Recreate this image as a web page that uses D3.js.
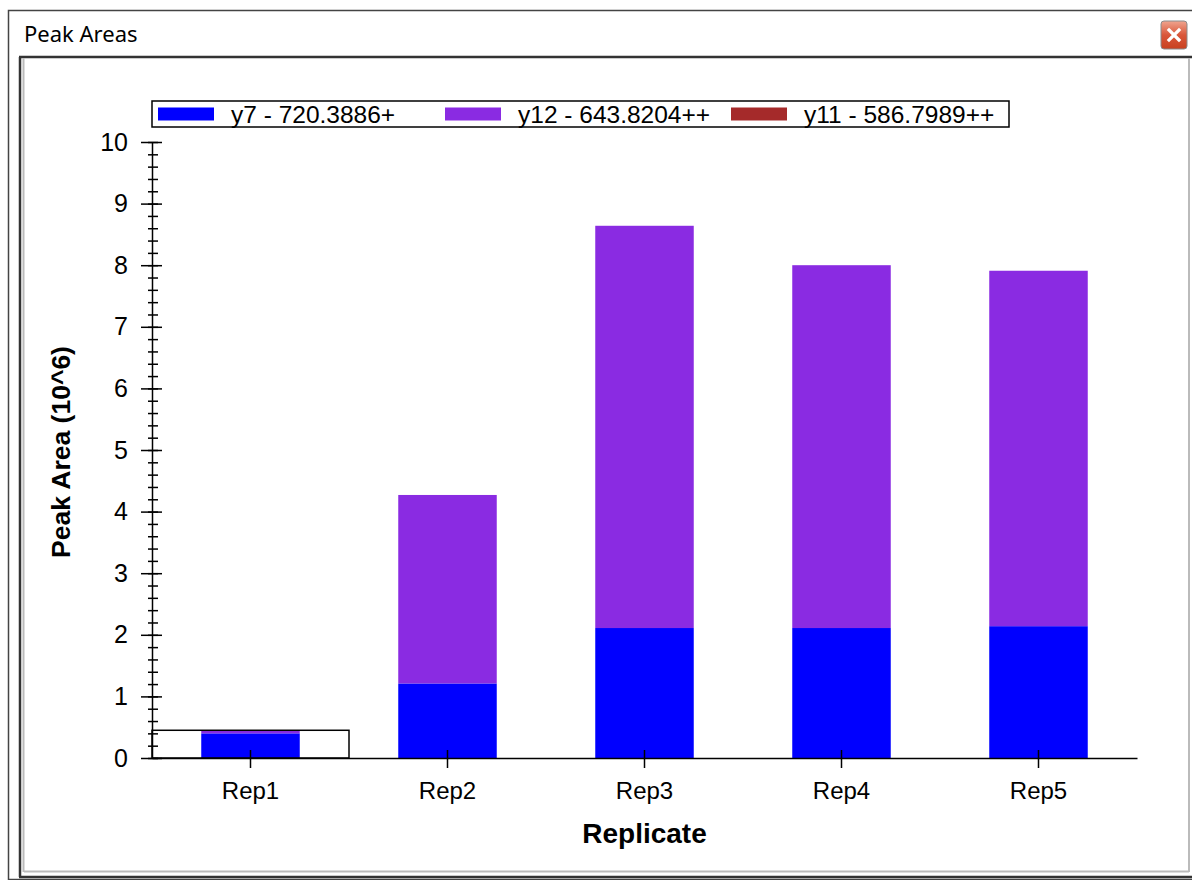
<!DOCTYPE html>
<html>
<head>
<title>Peak Areas</title>
<script src="https://d3js.org/d3.v7.min.js"></script>
<style>
  body { margin: 0; background: #fff; }
  text { font-family: "Liberation Sans", Arial, sans-serif; fill: #000; }
</style>
</head>
<body>
<script>
// data (peak area in 10^6)
const replicates = ["Rep1", "Rep2", "Rep3", "Rep4", "Rep5"];
const y7Values  = [0.40, 1.21, 2.11, 2.11, 2.14];
const y12Values = [0.05, 3.06, 6.53, 5.89, 5.77];
const y11Values = [0, 0, 0, 0, 0];
const seriesNames  = ["y7 - 720.3886+", "y12 - 643.8204++", "y11 - 586.7989++"];
const seriesColors = ["#0000ff", "#8a2be2", "#a52a2a"];
const yTicks = [0, 1, 2, 3, 4, 5, 6, 7, 8, 9, 10];
const selected = "Rep1";

const table = replicates.map((r, i) => ({rep: r, y7: y7Values[i], y12: y12Values[i], y11: y11Values[i]}));
const keys = ["y7", "y12", "y11"];

const svg = d3.select("body").append("svg")
  .attr("width", 1192)
  .attr("height", 880);

// window frame
svg.append("rect").attr("x", 8.5).attr("y", 10.5).attr("width", 1190).attr("height", 869)
  .attr("fill", "#fff").attr("stroke", "#444").attr("stroke-width", 1.5);
svg.append("text").attr("x", 24).attr("y", 42)
  .style("font-family", "'Noto Sans', 'Open Sans', sans-serif").style("font-size", "22px")
  .text("Peak Areas");

// close button
const btn = svg.append("g").attr("transform", "translate(1161,21)");
const grad = svg.append("defs").append("linearGradient").attr("id", "btnGrad")
  .attr("x1", 0).attr("y1", 0).attr("x2", 0).attr("y2", 1);
grad.append("stop").attr("offset", "0%").attr("stop-color", "#f0a58f");
grad.append("stop").attr("offset", "50%").attr("stop-color", "#d9573a");
grad.append("stop").attr("offset", "100%").attr("stop-color", "#c8401f");
btn.append("rect").attr("width", 26).attr("height", 28).attr("rx", 3)
  .attr("fill", "url(#btnGrad)").attr("stroke", "#8a8a8a");
btn.append("path").attr("d", "M8,9L18,19M18,9L8,19")
  .attr("stroke", "#fff").attr("stroke-width", 3.2).attr("stroke-linecap", "square");

// inner panel borders
svg.append("line").attr("x1", 19).attr("x2", 1192).attr("y1", 57).attr("y2", 57)
  .attr("stroke", "#333").attr("stroke-width", 2.5);
svg.append("line").attr("x1", 20).attr("x2", 20).attr("y1", 57).attr("y2", 877)
  .attr("stroke", "#333").attr("stroke-width", 2.5);
svg.append("line").attr("x1", 23.5).attr("x2", 23.5).attr("y1", 58).attr("y2", 872)
  .attr("stroke", "#bbb").attr("stroke-width", 2);
svg.append("line").attr("x1", 24).attr("x2", 1189).attr("y1", 871.5).attr("y2", 871.5)
  .attr("stroke", "#bbb").attr("stroke-width", 2);
svg.append("line").attr("x1", 19).attr("x2", 1192).attr("y1", 877).attr("y2", 877)
  .attr("stroke", "#333").attr("stroke-width", 2.5);
svg.append("line").attr("x1", 1189).attr("x2", 1189).attr("y1", 58).attr("y2", 872)
  .attr("stroke", "#bbb").attr("stroke-width", 2);

// chart
const plotLeft = 152, plotRight = 1137, plotTop = 142, plotBottom = 758;

const xScale = d3.scaleBand().domain(replicates).range([plotLeft, plotRight])
  .paddingInner(0.5).paddingOuter(0.25);
const yScale = d3.scaleLinear().domain([0, 10]).range([plotBottom, plotTop]);

const stacked = d3.stack().keys(keys)(table);

stacked.forEach((layer, li) => {
  svg.append("g").selectAll("rect")
    .data(layer)
    .join("rect")
    .attr("x", d => xScale(d.data.rep))
    .attr("width", xScale.bandwidth())
    .attr("y", d => yScale(d[1]))
    .attr("height", d => yScale(d[0]) - yScale(d[1]))
    .attr("fill", seriesColors[li]);
});

// selection box around Rep1
const selRow = table.find(d => d.rep === selected);
const selTotal = selRow.y7 + selRow.y12 + selRow.y11;
const step = xScale.step();
svg.append("rect")
  .attr("x", xScale(selected) + xScale.bandwidth() / 2 - step / 2)
  .attr("width", step)
  .attr("y", yScale(selTotal))
  .attr("height", yScale(0) - yScale(selTotal))
  .attr("fill", "none").attr("stroke", "#000").attr("stroke-width", 1.5);

// y axis minor ticks
const yMinor = d3.axisLeft(yScale).tickValues(d3.range(0, 10.01, 0.2)).tickFormat("").tickSize(4).tickSizeOuter(0);
const gMinor = svg.append("g").attr("transform", `translate(${plotLeft},0)`).call(yMinor);
gMinor.select(".domain").remove();
gMinor.selectAll(".tick line").attr("x1", 6).attr("stroke-width", 1.5);

// y axis major ticks
const yAxis = d3.axisLeft(yScale).tickValues(yTicks).tickSize(11).tickSizeOuter(0).tickPadding(13);
const gy = svg.append("g").attr("transform", `translate(${plotLeft},0)`).call(yAxis);
gy.select(".domain").attr("stroke-width", 1.5);
gy.selectAll(".tick line").attr("x1", 10).attr("stroke-width", 1.5);
gy.selectAll(".tick text").style("font-size", "25px").style("font-family", "'Liberation Sans', Arial, sans-serif").attr("fill", "#000");

// x axis
const xAxis = d3.axisBottom(xScale).tickSize(10).tickSizeOuter(0).tickPadding(14);
const gx = svg.append("g").attr("transform", `translate(0,${plotBottom})`).call(xAxis);
gx.select(".domain").attr("stroke-width", 1.5);
gx.selectAll(".tick line").attr("y1", -8).attr("stroke-width", 1.5);
gx.selectAll(".tick text").style("font-size", "24px").style("font-family", "'Liberation Sans', Arial, sans-serif").attr("fill", "#000");

// axis titles
svg.append("text")
  .attr("transform", `translate(70,${(plotTop + plotBottom) / 2 + 2}) rotate(-90)`)
  .attr("text-anchor", "middle")
  .style("font-size", "26.5px").style("font-weight", "bold")
  .text("Peak Area (10^6)");
svg.append("text")
  .attr("x", (plotLeft + plotRight) / 2).attr("y", 843)
  .attr("text-anchor", "middle")
  .style("font-size", "28px").style("font-weight", "bold")
  .text("Replicate");

// legend
const legend = svg.append("g");
legend.append("rect").attr("x", 152).attr("y", 101).attr("width", 857).attr("height", 26)
  .attr("fill", "#fff").attr("stroke", "#000").attr("stroke-width", 1.5);
const legendX = [158, 445, 731];
seriesNames.forEach((name, i) => {
  legend.append("rect").attr("x", legendX[i]).attr("y", 107.5).attr("width", 56).attr("height", 13)
    .attr("fill", seriesColors[i]);
  legend.append("text").attr("x", legendX[i] + 73).attr("y", 123)
    .style("font-size", "24.5px")
    .text(name);
});
</script>
</body>
</html>
